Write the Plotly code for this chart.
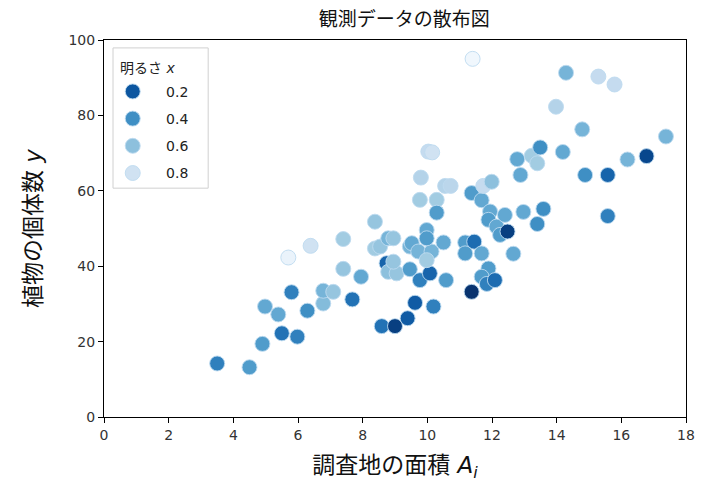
import plotly.graph_objects as go
from plotly.colors import sample_colorscale

# observed data: area A_i, plant count y, brightness x
area = [3.50, 4.50, 4.90, 4.98, 5.39, 5.50, 5.80, 5.70, 5.98, 6.29,
        6.39, 6.78, 6.78, 7.09, 7.40, 7.40, 7.68, 7.95, 8.38, 8.54,
        8.38, 8.59, 8.74, 8.79, 9.05, 8.95, 8.79, 8.95, 9.00, 9.39,
        9.62, 9.46, 9.77, 10.08, 10.58, 10.19, 9.46, 9.52, 9.72, 10.13,
        9.98, 9.98, 9.98, 10.50, 9.77, 9.80, 10.03, 10.15, 10.29, 10.29,
        10.55, 10.72, 11.17, 11.45, 11.17, 11.68, 11.37, 11.37, 11.68, 11.73,
        11.99, 11.89, 11.68, 11.84, 12.09, 11.94, 11.89, 12.14, 12.25, 12.40,
        12.48, 12.66, 12.97, 13.59, 13.40, 12.78, 12.88, 13.23, 13.40, 13.49,
        14.19, 13.98, 14.29, 14.79, 14.88, 15.29, 15.58, 15.58, 15.79, 16.19,
        16.78, 17.38, 11.40]
count = [14.2, 13.2, 19.4, 29.3, 27.2, 22.2, 33.1, 42.3, 21.3, 28.2,
         45.4, 30.1, 33.5, 33.2, 39.3, 47.2, 31.2, 37.2, 44.7, 45.2,
         51.8, 24.1, 40.8, 38.5, 38.1, 41.2, 47.4, 47.4, 24.1, 26.2,
         30.3, 39.2, 36.3, 38.1, 36.3, 29.3, 45.2, 46.1, 43.9, 43.9,
         41.6, 49.6, 47.4, 46.3, 57.6, 63.5, 70.4, 70.2, 57.6, 54.2,
         61.3, 61.3, 46.3, 46.5, 43.4, 43.4, 33.2, 59.4, 57.5, 61.3,
         62.4, 39.4, 37.2, 35.3, 36.3, 54.5, 52.3, 50.5, 48.3, 53.6,
         49.2, 43.3, 54.4, 55.2, 51.2, 68.4, 64.2, 69.3, 67.3, 71.5,
         70.3, 82.3, 91.3, 76.3, 64.2, 90.3, 64.2, 53.3, 88.2, 68.3,
         69.2, 74.4, 95.0]
brightness = [0.35, 0.45, 0.45, 0.50, 0.50, 0.30, 0.35, 0.92, 0.35, 0.40,
              0.80, 0.58, 0.55, 0.62, 0.62, 0.65, 0.30, 0.50, 0.65, 0.62,
              0.62, 0.30, 0.25, 0.60, 0.62, 0.62, 0.55, 0.62, 0.12, 0.22,
              0.22, 0.45, 0.35, 0.25, 0.45, 0.35, 0.55, 0.50, 0.55, 0.55,
              0.65, 0.50, 0.45, 0.50, 0.65, 0.70, 0.75, 0.80, 0.65, 0.45,
              0.70, 0.72, 0.45, 0.28, 0.45, 0.50, 0.08, 0.45, 0.50, 0.75,
              0.60, 0.45, 0.45, 0.35, 0.28, 0.50, 0.45, 0.50, 0.45, 0.50,
              0.12, 0.50, 0.50, 0.40, 0.40, 0.50, 0.50, 0.65, 0.65, 0.40,
              0.50, 0.70, 0.55, 0.55, 0.40, 0.75, 0.25, 0.35, 0.75, 0.55,
              0.15, 0.55, 0.95]
legend_levels = [0.2, 0.4, 0.6, 0.8]

blues_r = [[0.0, "#08306b"], [0.125, "#08519c"], [0.25, "#2171b5"],
           [0.375, "#4292c6"], [0.5, "#6baed6"], [0.625, "#9ecae1"],
           [0.75, "#c6dbef"], [0.875, "#deebf7"], [1.0, "#f7fbff"]]
cmin, cmax = 0.07, 0.98

font_family = "DejaVu Sans, Noto Sans CJK JP, sans-serif"
edge = dict(color="rgba(190,218,240,0.9)", width=1)

fig = go.Figure()
fig.add_trace(go.Scatter(
    x=area, y=count, mode="markers", showlegend=False,
    marker=dict(size=15, color=brightness, colorscale=blues_r,
                cmin=cmin, cmax=cmax, line=edge, opacity=1),
))

# legend entries (padded so the labels sit to the right like the original)
for lv in legend_levels:
    col = sample_colorscale(blues_r, [(lv - cmin) / (cmax - cmin)])[0]
    fig.add_trace(go.Scatter(
        x=[None], y=[None], mode="markers",
        name="\u00a0\u00a0\u00a0" + f"{lv:.1f}",
        legendgroup=str(lv),
        marker=dict(size=15, color=col, line=edge),
    ))

# legend frame + title drawn by hand so the spacing matches
fig.add_shape(type="rect", xref="paper", yref="paper",
              x0=0.0155, x1=0.179, y0=0.607, y1=0.979,
              line=dict(color="#d0d0d0", width=1), fillcolor="white",
              layer="above")
fig.add_annotation(text="明るさ <i>x</i>", xref="paper", yref="paper",
                   x=0.074, y=0.926, xanchor="center", yanchor="middle",
                   showarrow=False, font=dict(size=14, color="#222"))

# page body has an 8px margin, so the margins are shifted by 8px
fig.update_layout(
    width=714, height=493,
    margin=dict(l=96, r=36, t=32, b=84),
    paper_bgcolor="white", plot_bgcolor="white",
    font=dict(family=font_family, size=14, color="#222"),
    title=dict(text="観測データの散布図", x=0.555, xanchor="center",
               y=0.978, yanchor="middle", font=dict(size=19, color="#111")),
    legend=dict(x=0.015, y=0.905, xanchor="left", yanchor="top",
                bgcolor="rgba(0,0,0,0)", borderwidth=0,
                font=dict(size=14, color="#222"), itemsizing="trace",
                tracegroupgap=6),
)
fig.update_xaxes(range=[0, 18], dtick=2, showgrid=False, zeroline=False,
                 showline=True, linecolor="black", linewidth=1, mirror=True,
                 ticks="outside", ticklen=5, tickcolor="black",
                 tickfont=dict(size=14, color="#333"),
                 title=dict(text="調査地の面積 <i>A<sub>i</sub></i>",
                            font=dict(size=23, color="#111"), standoff=15))
fig.update_yaxes(range=[0, 100], dtick=20, showgrid=False, zeroline=False,
                 showline=True, linecolor="black", linewidth=1, mirror=True,
                 ticks="outside", ticklen=5, tickcolor="black",
                 tickfont=dict(size=14, color="#333"),
                 title=dict(text="植物の個体数 <i>y</i>",
                            font=dict(size=23, color="#111"), standoff=20))

fig.write_html("out.html")
